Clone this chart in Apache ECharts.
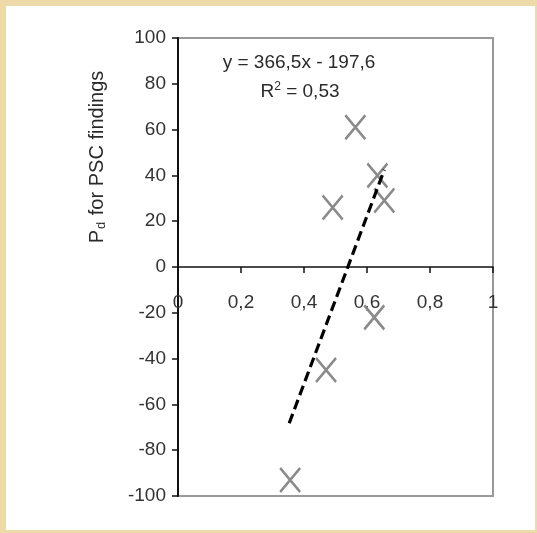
<!DOCTYPE html>
<html>
<head>
<meta charset="utf-8">
<script src="https://cdn.jsdelivr.net/npm/echarts@6/dist/echarts.min.js"></script>
<style>
html,body{margin:0;padding:0;background:#eedaa8;}
#chart{width:537px;height:533px;}
</style>
</head>
<body>
<div id="chart"></div>
<script>
// Data
const xValues = [0.563, 0.491, 0.633, 0.655, 0.623, 0.470, 0.356];
const yValues = [61, 26, 40, 29, -22, -45, -93];
// Trendline as printed in the chart: y = 366,5x - 197,6 (R² = 0,53)
const trendSlope = 366.5;
const trendIntercept = -197.6;
const trendXRange = [0.353, 0.655];
const xTicks = [0, 0.2, 0.4, 0.6, 0.8, 1];
const yTicks = [-100, -80, -60, -40, -20, 0, 20, 40, 60, 80, 100];

const points = xValues.map((x, i) => [x, yValues[i]]);
const trend = trendXRange.map(x => [x, trendSlope * x + trendIntercept]);
const fmt = v => String(v).replace('.', ',');
const FONT = '"Liberation Sans", Arial, sans-serif';
const GRID_H = 458;

const chart = echarts.init(document.getElementById('chart'), null, {renderer: 'canvas'});
chart.setOption({
  backgroundColor: '#eedaa8',
  animation: false,
  graphic: [
    {type: 'rect', z: -100, silent: true, shape: {x: 6, y: 6, width: 529, height: 524}, style: {fill: '#ffffff'}},
    {type: 'text', z: 100, x: 299, y: 63, style: {
      text: 'y = 366,5x - 197,6', fontSize: 19, fontFamily: FONT, fill: '#2a2a2a', align: 'center', verticalAlign: 'middle'}},
    {type: 'text', z: 100, x: 300, y: 92, style: {
      text: '{n|R}{sup|2}{n| = 0,53}', align: 'center', verticalAlign: 'middle', fill: '#2a2a2a',
      rich: {
        n: {fontSize: 19, fontFamily: FONT, fill: '#2a2a2a'},
        sup: {fontSize: 12, fontFamily: FONT, fill: '#2a2a2a', verticalAlign: 'top', padding: [0, 0, 10, 0]}
      }}},
    {type: 'text', z: 100, x: 97, y: 157, rotation: Math.PI / 2, style: {
      text: '{n|P}{sub|d}{n| for PSC findings}', align: 'center', verticalAlign: 'middle', fill: '#2a2a2a',
      rich: {
        n: {fontSize: 20, fontFamily: FONT, fill: '#2a2a2a'},
        sub: {fontSize: 13, fontFamily: FONT, fill: '#2a2a2a', padding: [8, 1, 0, 1]}
      }}}
  ],
  grid: {left: 178, top: 38, width: 315, height: GRID_H, show: true, backgroundColor: '#ffffff', borderColor: '#999999', borderWidth: 2},
  xAxis: {
    type: 'value', min: 0, max: 1, interval: 0.2,
    position: 'bottom', offset: -GRID_H / 2,
    axisLine: {onZero: false, lineStyle: {color: '#111', width: 1.5}},
    axisTick: {show: true, length: 6, lineStyle: {color: '#111', width: 1.5}},
    axisLabel: {margin: 26, fontSize: 19, fontFamily: FONT, color: '#333', formatter: v => fmt(v), showMinLabel: true, showMaxLabel: true},
    splitLine: {show: false}
  },
  yAxis: {
    type: 'value', min: -100, max: 100, interval: 20,
    axisLine: {show: true, onZero: false, lineStyle: {color: '#111', width: 2}},
    axisTick: {show: true, length: 6, lineStyle: {color: '#111', width: 1.5}},
    axisLabel: {margin: 12, fontSize: 19, fontFamily: FONT, color: '#333', formatter: v => fmt(v)},
    splitLine: {show: false}
  },
  series: [
    {
      type: 'scatter', data: points, z: 3,
      symbol: 'path://M0,0L10,12M10,0L0,12', symbolSize: [20, 24], symbolKeepAspect: false,
      itemStyle: {color: 'rgba(0,0,0,0)', borderColor: '#8a8a8a', borderWidth: 2.6, opacity: 1}
    },
    {
      type: 'line', data: trend, z: 4, symbol: 'none', silent: true,
      lineStyle: {color: '#000', width: 3.2, type: [10, 5]}
    }
  ]
});
</script>
</body>
</html>
